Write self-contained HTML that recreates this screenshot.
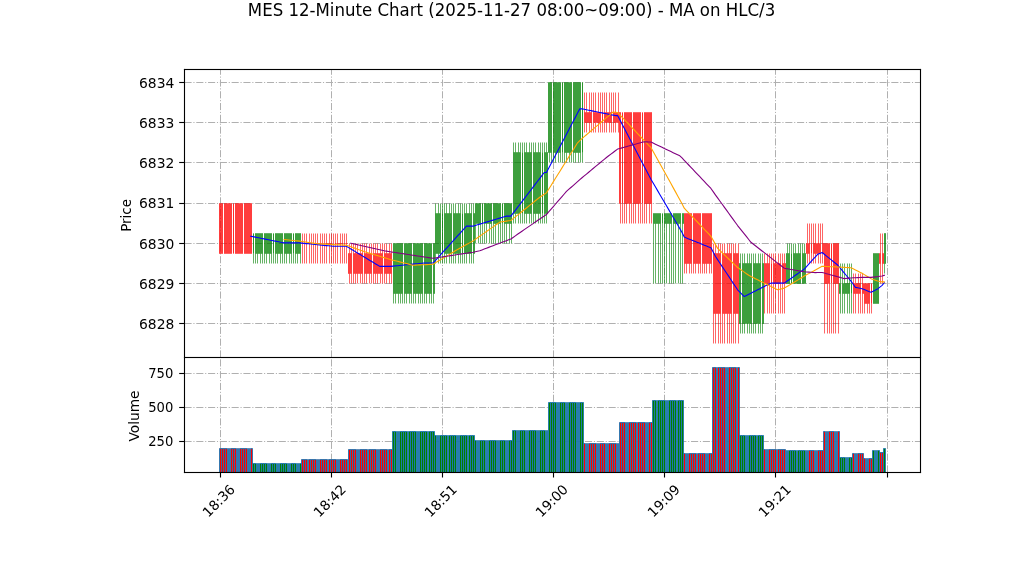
<!DOCTYPE html>
<html lang="en"><head><meta charset="utf-8"><title>MES 12-Minute Chart</title>
<style>
html,body{margin:0;padding:0;background:#fff;}
body{width:1022px;height:575px;overflow:hidden;}
svg{display:block;}
text{font-family:"DejaVu Sans","Liberation Sans",sans-serif;fill:#000;}
.t10{font-size:13.89px;}
.t12{font-size:16.67px;}
</style></head><body>
<svg width="1022" height="575" viewBox="0 0 1022 575">
<defs><clipPath id="vc"><rect x="184" y="357" width="736" height="115"/></clipPath></defs>
<rect width="1022" height="575" fill="#fff"/>

<g stroke="#b0b0b0" stroke-width="1" stroke-dasharray="7.11 1.78 1.11 1.78" fill="none">
<path d="M184.5 323.5H920.5"/>
<path d="M184.5 283.5H920.5"/>
<path d="M184.5 243.5H920.5"/>
<path d="M184.5 203.5H920.5"/>
<path d="M184.5 162.5H920.5"/>
<path d="M184.5 122.5H920.5"/>
<path d="M184.5 82.5H920.5"/>
<path d="M220.5 357.5V69.5"/>
<path d="M220.5 472.5V357.5"/>
<path d="M331.5 357.5V69.5"/>
<path d="M331.5 472.5V357.5"/>
<path d="M442.5 357.5V69.5"/>
<path d="M442.5 472.5V357.5"/>
<path d="M553.5 357.5V69.5"/>
<path d="M553.5 472.5V357.5"/>
<path d="M664.5 357.5V69.5"/>
<path d="M664.5 472.5V357.5"/>
<path d="M775.5 357.5V69.5"/>
<path d="M775.5 472.5V357.5"/>
<path d="M887.5 357.5V69.5"/>
<path d="M887.5 472.5V357.5"/>
<path d="M184.5 373.5H920.5"/>
<path d="M184.5 407.5H920.5"/>
<path d="M184.5 441.5H920.5"/>
</g>
<path d="M253.5 253.5V263.5M255.5 253.5V263.5M257.5 253.5V263.5M260.5 253.5V263.5M262.5 253.5V263.5M264.5 253.5V263.5M266.5 253.5V263.5M269.5 253.5V263.5M271.5 253.5V263.5M273.5 253.5V263.5M275.5 253.5V263.5M277.5 253.5V263.5M280.5 253.5V263.5M282.5 253.5V263.5M284.5 253.5V263.5M286.5 253.5V263.5M289.5 253.5V263.5M291.5 253.5V263.5M293.5 253.5V263.5M295.5 253.5V263.5M297.5 253.5V263.5M300.5 253.5V263.5M393.5 293.5V303.5M395.5 293.5V303.5M398.5 293.5V303.5M400.5 293.5V303.5M402.5 293.5V303.5M404.5 293.5V303.5M406.5 293.5V303.5M409.5 293.5V303.5M411.5 293.5V303.5M413.5 293.5V303.5M415.5 293.5V303.5M418.5 293.5V303.5M420.5 293.5V303.5M422.5 293.5V303.5M424.5 293.5V303.5M426.5 293.5V303.5M429.5 293.5V303.5M431.5 293.5V303.5M433.5 293.5V303.5M435.5 203.5V213.5M435.5 253.5V263.5M438.5 203.5V213.5M438.5 253.5V263.5M440.5 203.5V213.5M440.5 253.5V263.5M442.5 203.5V213.5M442.5 253.5V263.5M444.5 203.5V213.5M444.5 253.5V263.5M446.5 203.5V213.5M446.5 253.5V263.5M449.5 203.5V213.5M449.5 253.5V263.5M451.5 203.5V213.5M451.5 253.5V263.5M453.5 203.5V213.5M453.5 253.5V263.5M455.5 203.5V213.5M455.5 253.5V263.5M458.5 203.5V213.5M458.5 253.5V263.5M460.5 203.5V213.5M460.5 253.5V263.5M462.5 203.5V213.5M462.5 253.5V263.5M464.5 203.5V213.5M464.5 253.5V263.5M466.5 203.5V213.5M466.5 253.5V263.5M469.5 203.5V213.5M469.5 253.5V263.5M471.5 203.5V213.5M471.5 253.5V263.5M473.5 203.5V213.5M473.5 253.5V263.5M475.5 223.5V243.5M478.5 223.5V243.5M480.5 223.5V243.5M482.5 223.5V243.5M484.5 223.5V243.5M486.5 223.5V243.5M489.5 223.5V243.5M491.5 223.5V243.5M493.5 223.5V243.5M495.5 223.5V243.5M498.5 223.5V243.5M500.5 223.5V243.5M502.5 223.5V243.5M504.5 223.5V243.5M506.5 223.5V243.5M509.5 223.5V243.5M511.5 223.5V243.5M513.5 142.5V152.5M513.5 213.5V223.5M515.5 142.5V152.5M515.5 213.5V223.5M518.5 142.5V152.5M518.5 213.5V223.5M520.5 142.5V152.5M520.5 213.5V223.5M522.5 142.5V152.5M522.5 213.5V223.5M524.5 142.5V152.5M524.5 213.5V223.5M526.5 142.5V152.5M526.5 213.5V223.5M529.5 142.5V152.5M529.5 213.5V223.5M531.5 142.5V152.5M531.5 213.5V223.5M533.5 142.5V152.5M533.5 213.5V223.5M535.5 142.5V152.5M535.5 213.5V223.5M538.5 142.5V152.5M538.5 213.5V223.5M540.5 142.5V152.5M540.5 213.5V223.5M542.5 142.5V152.5M542.5 213.5V223.5M544.5 142.5V152.5M544.5 213.5V223.5M546.5 142.5V152.5M546.5 213.5V223.5M549.5 152.5V162.5M551.5 152.5V162.5M553.5 152.5V162.5M555.5 152.5V162.5M558.5 152.5V162.5M560.5 152.5V162.5M562.5 152.5V162.5M564.5 152.5V162.5M566.5 152.5V162.5M569.5 152.5V162.5M571.5 152.5V162.5M573.5 152.5V162.5M575.5 152.5V162.5M578.5 152.5V162.5M580.5 152.5V162.5M582.5 152.5V162.5M653.5 223.5V283.5M655.5 223.5V283.5M658.5 223.5V283.5M660.5 223.5V283.5M662.5 223.5V283.5M664.5 223.5V283.5M666.5 223.5V283.5M669.5 223.5V283.5M671.5 223.5V283.5M673.5 223.5V283.5M675.5 223.5V283.5M678.5 223.5V283.5M680.5 223.5V283.5M682.5 223.5V283.5M740.5 253.5V263.5M740.5 323.5V333.5M742.5 253.5V263.5M742.5 323.5V333.5M744.5 253.5V263.5M744.5 323.5V333.5M747.5 253.5V263.5M747.5 323.5V333.5M749.5 253.5V263.5M749.5 323.5V333.5M751.5 253.5V263.5M751.5 323.5V333.5M753.5 253.5V263.5M753.5 323.5V333.5M755.5 253.5V263.5M755.5 323.5V333.5M758.5 253.5V263.5M758.5 323.5V333.5M760.5 253.5V263.5M760.5 323.5V333.5M762.5 253.5V263.5M762.5 323.5V333.5M787.5 243.5V253.5M789.5 243.5V253.5M791.5 243.5V253.5M793.5 243.5V253.5M795.5 243.5V253.5M798.5 243.5V253.5M800.5 243.5V253.5M802.5 243.5V253.5M804.5 243.5V253.5M840.5 263.5V283.5M840.5 293.5V313.5M842.5 263.5V283.5M842.5 293.5V313.5M844.5 263.5V283.5M844.5 293.5V313.5M847.5 263.5V283.5M847.5 293.5V313.5M849.5 263.5V283.5M849.5 293.5V313.5M851.5 263.5V283.5M851.5 293.5V313.5M884.5 263.5V273.5" stroke="#008000" stroke-width="0.604" fill="none"/>
<path d="M302.5 233.5V243.5M302.5 243.5V263.5M304.5 233.5V243.5M304.5 243.5V263.5M306.5 233.5V243.5M306.5 243.5V263.5M309.5 233.5V243.5M309.5 243.5V263.5M311.5 233.5V243.5M311.5 243.5V263.5M313.5 233.5V243.5M313.5 243.5V263.5M315.5 233.5V243.5M315.5 243.5V263.5M317.5 233.5V243.5M317.5 243.5V263.5M320.5 233.5V243.5M320.5 243.5V263.5M322.5 233.5V243.5M322.5 243.5V263.5M324.5 233.5V243.5M324.5 243.5V263.5M326.5 233.5V243.5M326.5 243.5V263.5M329.5 233.5V243.5M329.5 243.5V263.5M331.5 233.5V243.5M331.5 243.5V263.5M333.5 233.5V243.5M333.5 243.5V263.5M335.5 233.5V243.5M335.5 243.5V263.5M337.5 233.5V243.5M337.5 243.5V263.5M340.5 233.5V243.5M340.5 243.5V263.5M342.5 233.5V243.5M342.5 243.5V263.5M344.5 233.5V243.5M344.5 243.5V263.5M346.5 233.5V243.5M346.5 243.5V263.5M349.5 243.5V253.5M349.5 273.5V283.5M351.5 243.5V253.5M351.5 273.5V283.5M353.5 243.5V253.5M353.5 273.5V283.5M355.5 243.5V253.5M355.5 273.5V283.5M357.5 243.5V253.5M357.5 273.5V283.5M360.5 243.5V253.5M360.5 273.5V283.5M362.5 243.5V253.5M362.5 273.5V283.5M364.5 243.5V253.5M364.5 273.5V283.5M366.5 243.5V253.5M366.5 273.5V283.5M369.5 243.5V253.5M369.5 273.5V283.5M371.5 243.5V253.5M371.5 273.5V283.5M373.5 243.5V253.5M373.5 273.5V283.5M375.5 243.5V253.5M375.5 273.5V283.5M377.5 243.5V253.5M377.5 273.5V283.5M380.5 243.5V253.5M380.5 273.5V283.5M382.5 243.5V253.5M382.5 273.5V283.5M384.5 243.5V253.5M384.5 273.5V283.5M386.5 243.5V253.5M386.5 273.5V283.5M389.5 243.5V253.5M389.5 273.5V283.5M391.5 243.5V253.5M391.5 273.5V283.5M584.5 92.5V112.5M584.5 122.5V132.5M586.5 92.5V112.5M586.5 122.5V132.5M589.5 92.5V112.5M589.5 122.5V132.5M591.5 92.5V112.5M591.5 122.5V132.5M593.5 92.5V112.5M593.5 122.5V132.5M595.5 92.5V112.5M595.5 122.5V132.5M598.5 92.5V112.5M598.5 122.5V132.5M600.5 92.5V112.5M600.5 122.5V132.5M602.5 92.5V112.5M602.5 122.5V132.5M604.5 92.5V112.5M604.5 122.5V132.5M606.5 92.5V112.5M606.5 122.5V132.5M609.5 92.5V112.5M609.5 122.5V132.5M611.5 92.5V112.5M611.5 122.5V132.5M613.5 92.5V112.5M613.5 122.5V132.5M615.5 92.5V112.5M615.5 122.5V132.5M618.5 92.5V112.5M618.5 122.5V132.5M620.5 203.5V223.5M622.5 203.5V223.5M624.5 203.5V223.5M626.5 203.5V223.5M629.5 203.5V223.5M631.5 203.5V223.5M633.5 203.5V223.5M635.5 203.5V223.5M638.5 203.5V223.5M640.5 203.5V223.5M642.5 203.5V223.5M644.5 203.5V223.5M646.5 203.5V223.5M649.5 203.5V223.5M651.5 203.5V223.5M684.5 263.5V273.5M686.5 263.5V273.5M689.5 263.5V273.5M691.5 263.5V273.5M693.5 263.5V273.5M695.5 263.5V273.5M698.5 263.5V273.5M700.5 263.5V273.5M702.5 263.5V273.5M704.5 263.5V273.5M706.5 263.5V273.5M709.5 263.5V273.5M711.5 263.5V273.5M713.5 243.5V253.5M713.5 313.5V343.5M715.5 243.5V253.5M715.5 313.5V343.5M718.5 243.5V253.5M718.5 313.5V343.5M720.5 243.5V253.5M720.5 313.5V343.5M722.5 243.5V253.5M722.5 313.5V343.5M724.5 243.5V253.5M724.5 313.5V343.5M727.5 243.5V253.5M727.5 313.5V343.5M729.5 243.5V253.5M729.5 313.5V343.5M731.5 243.5V253.5M731.5 313.5V343.5M733.5 243.5V253.5M733.5 313.5V343.5M735.5 243.5V253.5M735.5 313.5V343.5M738.5 243.5V253.5M738.5 313.5V343.5M764.5 253.5V263.5M764.5 283.5V313.5M767.5 253.5V263.5M767.5 283.5V313.5M769.5 253.5V263.5M769.5 283.5V313.5M771.5 253.5V263.5M771.5 283.5V313.5M773.5 253.5V263.5M773.5 283.5V313.5M775.5 253.5V263.5M775.5 283.5V313.5M778.5 253.5V263.5M778.5 283.5V313.5M780.5 253.5V263.5M780.5 283.5V313.5M782.5 253.5V263.5M782.5 283.5V313.5M784.5 253.5V263.5M784.5 283.5V313.5M807.5 223.5V243.5M807.5 253.5V263.5M809.5 223.5V243.5M809.5 253.5V263.5M811.5 223.5V243.5M811.5 253.5V263.5M813.5 223.5V243.5M813.5 253.5V263.5M815.5 223.5V243.5M815.5 253.5V263.5M818.5 223.5V243.5M818.5 253.5V263.5M820.5 223.5V243.5M820.5 253.5V263.5M822.5 223.5V243.5M822.5 253.5V263.5M824.5 283.5V333.5M827.5 283.5V333.5M829.5 283.5V333.5M831.5 283.5V333.5M833.5 283.5V333.5M835.5 283.5V333.5M838.5 283.5V333.5M853.5 273.5V283.5M853.5 293.5V313.5M855.5 273.5V283.5M855.5 293.5V313.5M858.5 273.5V283.5M858.5 293.5V313.5M860.5 273.5V283.5M860.5 293.5V313.5M862.5 273.5V283.5M862.5 293.5V313.5M864.5 303.5V313.5M867.5 303.5V313.5M869.5 303.5V313.5M871.5 303.5V313.5M880.5 233.5V253.5M880.5 263.5V283.5M882.5 233.5V253.5M882.5 263.5V283.5" stroke="#ff0000" stroke-width="0.604" fill="none"/>
<g fill="#008000" fill-opacity="0.8" stroke="#008000" stroke-width="0.604">
<path d="M253.5 233.5H253.5V253.5H253.5Z"/>
<path d="M255.5 233.5H256.5V253.5H255.5Z"/>
<path d="M257.5 233.5H258.5V253.5H257.5Z"/>
<path d="M259.5 233.5H260.5V253.5H259.5Z"/>
<path d="M261.5 233.5H262.5V253.5H261.5Z"/>
<path d="M264.5 233.5H265.5V253.5H264.5Z"/>
<path d="M266.5 233.5H267.5V253.5H266.5Z"/>
<path d="M268.5 233.5H269.5V253.5H268.5Z"/>
<path d="M270.5 233.5H271.5V253.5H270.5Z"/>
<path d="M273.5 233.5H273.5V253.5H273.5Z"/>
<path d="M275.5 233.5H276.5V253.5H275.5Z"/>
<path d="M277.5 233.5H278.5V253.5H277.5Z"/>
<path d="M279.5 233.5H280.5V253.5H279.5Z"/>
<path d="M281.5 233.5H282.5V253.5H281.5Z"/>
<path d="M284.5 233.5H285.5V253.5H284.5Z"/>
<path d="M286.5 233.5H287.5V253.5H286.5Z"/>
<path d="M288.5 233.5H289.5V253.5H288.5Z"/>
<path d="M290.5 233.5H291.5V253.5H290.5Z"/>
<path d="M293.5 233.5H293.5V253.5H293.5Z"/>
<path d="M295.5 233.5H296.5V253.5H295.5Z"/>
<path d="M297.5 233.5H298.5V253.5H297.5Z"/>
<path d="M299.5 233.5H300.5V253.5H299.5Z"/>
<path d="M393.5 243.5H394.5V293.5H393.5Z"/>
<path d="M395.5 243.5H396.5V293.5H395.5Z"/>
<path d="M397.5 243.5H398.5V293.5H397.5Z"/>
<path d="M399.5 243.5H400.5V293.5H399.5Z"/>
<path d="M401.5 243.5H402.5V293.5H401.5Z"/>
<path d="M404.5 243.5H405.5V293.5H404.5Z"/>
<path d="M406.5 243.5H407.5V293.5H406.5Z"/>
<path d="M408.5 243.5H409.5V293.5H408.5Z"/>
<path d="M410.5 243.5H411.5V293.5H410.5Z"/>
<path d="M413.5 243.5H414.5V293.5H413.5Z"/>
<path d="M415.5 243.5H416.5V293.5H415.5Z"/>
<path d="M417.5 243.5H418.5V293.5H417.5Z"/>
<path d="M419.5 243.5H420.5V293.5H419.5Z"/>
<path d="M421.5 243.5H422.5V293.5H421.5Z"/>
<path d="M424.5 243.5H425.5V293.5H424.5Z"/>
<path d="M426.5 243.5H427.5V293.5H426.5Z"/>
<path d="M428.5 243.5H429.5V293.5H428.5Z"/>
<path d="M430.5 243.5H431.5V293.5H430.5Z"/>
<path d="M433.5 243.5H434.5V293.5H433.5Z"/>
<path d="M435.5 213.5H436.5V253.5H435.5Z"/>
<path d="M437.5 213.5H438.5V253.5H437.5Z"/>
<path d="M439.5 213.5H440.5V253.5H439.5Z"/>
<path d="M442.5 213.5H442.5V253.5H442.5Z"/>
<path d="M444.5 213.5H445.5V253.5H444.5Z"/>
<path d="M446.5 213.5H447.5V253.5H446.5Z"/>
<path d="M448.5 213.5H449.5V253.5H448.5Z"/>
<path d="M450.5 213.5H451.5V253.5H450.5Z"/>
<path d="M453.5 213.5H454.5V253.5H453.5Z"/>
<path d="M455.5 213.5H456.5V253.5H455.5Z"/>
<path d="M457.5 213.5H458.5V253.5H457.5Z"/>
<path d="M459.5 213.5H460.5V253.5H459.5Z"/>
<path d="M462.5 213.5H462.5V253.5H462.5Z"/>
<path d="M464.5 213.5H465.5V253.5H464.5Z"/>
<path d="M466.5 213.5H467.5V253.5H466.5Z"/>
<path d="M468.5 213.5H469.5V253.5H468.5Z"/>
<path d="M470.5 213.5H471.5V253.5H470.5Z"/>
<path d="M473.5 213.5H474.5V253.5H473.5Z"/>
<path d="M475.5 203.5H476.5V223.5H475.5Z"/>
<path d="M477.5 203.5H478.5V223.5H477.5Z"/>
<path d="M479.5 203.5H480.5V223.5H479.5Z"/>
<path d="M482.5 203.5H482.5V223.5H482.5Z"/>
<path d="M484.5 203.5H485.5V223.5H484.5Z"/>
<path d="M486.5 203.5H487.5V223.5H486.5Z"/>
<path d="M488.5 203.5H489.5V223.5H488.5Z"/>
<path d="M490.5 203.5H491.5V223.5H490.5Z"/>
<path d="M493.5 203.5H494.5V223.5H493.5Z"/>
<path d="M495.5 203.5H496.5V223.5H495.5Z"/>
<path d="M497.5 203.5H498.5V223.5H497.5Z"/>
<path d="M499.5 203.5H500.5V223.5H499.5Z"/>
<path d="M502.5 203.5H502.5V223.5H502.5Z"/>
<path d="M504.5 203.5H505.5V223.5H504.5Z"/>
<path d="M506.5 203.5H507.5V223.5H506.5Z"/>
<path d="M508.5 203.5H509.5V223.5H508.5Z"/>
<path d="M510.5 203.5H511.5V223.5H510.5Z"/>
<path d="M513.5 152.5H514.5V213.5H513.5Z"/>
<path d="M515.5 152.5H516.5V213.5H515.5Z"/>
<path d="M517.5 152.5H518.5V213.5H517.5Z"/>
<path d="M519.5 152.5H520.5V213.5H519.5Z"/>
<path d="M522.5 152.5H522.5V213.5H522.5Z"/>
<path d="M524.5 152.5H525.5V213.5H524.5Z"/>
<path d="M526.5 152.5H527.5V213.5H526.5Z"/>
<path d="M528.5 152.5H529.5V213.5H528.5Z"/>
<path d="M530.5 152.5H531.5V213.5H530.5Z"/>
<path d="M533.5 152.5H534.5V213.5H533.5Z"/>
<path d="M535.5 152.5H536.5V213.5H535.5Z"/>
<path d="M537.5 152.5H538.5V213.5H537.5Z"/>
<path d="M539.5 152.5H540.5V213.5H539.5Z"/>
<path d="M542.5 152.5H542.5V213.5H542.5Z"/>
<path d="M544.5 152.5H545.5V213.5H544.5Z"/>
<path d="M546.5 152.5H547.5V213.5H546.5Z"/>
<path d="M548.5 82.5H549.5V152.5H548.5Z"/>
<path d="M550.5 82.5H551.5V152.5H550.5Z"/>
<path d="M553.5 82.5H554.5V152.5H553.5Z"/>
<path d="M555.5 82.5H556.5V152.5H555.5Z"/>
<path d="M557.5 82.5H558.5V152.5H557.5Z"/>
<path d="M559.5 82.5H560.5V152.5H559.5Z"/>
<path d="M562.5 82.5H562.5V152.5H562.5Z"/>
<path d="M564.5 82.5H565.5V152.5H564.5Z"/>
<path d="M566.5 82.5H567.5V152.5H566.5Z"/>
<path d="M568.5 82.5H569.5V152.5H568.5Z"/>
<path d="M570.5 82.5H571.5V152.5H570.5Z"/>
<path d="M573.5 82.5H574.5V152.5H573.5Z"/>
<path d="M575.5 82.5H576.5V152.5H575.5Z"/>
<path d="M577.5 82.5H578.5V152.5H577.5Z"/>
<path d="M579.5 82.5H580.5V152.5H579.5Z"/>
<path d="M582.5 82.5H582.5V152.5H582.5Z"/>
<path d="M653.5 213.5H654.5V223.5H653.5Z"/>
<path d="M655.5 213.5H656.5V223.5H655.5Z"/>
<path d="M657.5 213.5H658.5V223.5H657.5Z"/>
<path d="M659.5 213.5H660.5V223.5H659.5Z"/>
<path d="M662.5 213.5H662.5V223.5H662.5Z"/>
<path d="M664.5 213.5H665.5V223.5H664.5Z"/>
<path d="M666.5 213.5H667.5V223.5H666.5Z"/>
<path d="M668.5 213.5H669.5V223.5H668.5Z"/>
<path d="M670.5 213.5H671.5V223.5H670.5Z"/>
<path d="M673.5 213.5H674.5V223.5H673.5Z"/>
<path d="M675.5 213.5H676.5V223.5H675.5Z"/>
<path d="M677.5 213.5H678.5V223.5H677.5Z"/>
<path d="M679.5 213.5H680.5V223.5H679.5Z"/>
<path d="M682.5 213.5H683.5V223.5H682.5Z"/>
<path d="M739.5 263.5H740.5V323.5H739.5Z"/>
<path d="M742.5 263.5H743.5V323.5H742.5Z"/>
<path d="M744.5 263.5H745.5V323.5H744.5Z"/>
<path d="M746.5 263.5H747.5V323.5H746.5Z"/>
<path d="M748.5 263.5H749.5V323.5H748.5Z"/>
<path d="M750.5 263.5H751.5V323.5H750.5Z"/>
<path d="M753.5 263.5H754.5V323.5H753.5Z"/>
<path d="M755.5 263.5H756.5V323.5H755.5Z"/>
<path d="M757.5 263.5H758.5V323.5H757.5Z"/>
<path d="M759.5 263.5H760.5V323.5H759.5Z"/>
<path d="M762.5 263.5H763.5V323.5H762.5Z"/>
<path d="M786.5 253.5H787.5V283.5H786.5Z"/>
<path d="M788.5 253.5H789.5V283.5H788.5Z"/>
<path d="M791.5 253.5H791.5V283.5H791.5Z"/>
<path d="M793.5 253.5H794.5V283.5H793.5Z"/>
<path d="M795.5 253.5H796.5V283.5H795.5Z"/>
<path d="M797.5 253.5H798.5V283.5H797.5Z"/>
<path d="M799.5 253.5H800.5V283.5H799.5Z"/>
<path d="M802.5 253.5H803.5V283.5H802.5Z"/>
<path d="M804.5 253.5H805.5V283.5H804.5Z"/>
<path d="M839.5 283.5H840.5V293.5H839.5Z"/>
<path d="M842.5 283.5H843.5V293.5H842.5Z"/>
<path d="M844.5 283.5H845.5V293.5H844.5Z"/>
<path d="M846.5 283.5H847.5V293.5H846.5Z"/>
<path d="M848.5 283.5H849.5V293.5H848.5Z"/>
<path d="M851.5 283.5H851.5V293.5H851.5Z"/>
<path d="M873.5 253.5H874.5V303.5H873.5Z"/>
<path d="M875.5 253.5H876.5V303.5H875.5Z"/>
<path d="M877.5 253.5H878.5V303.5H877.5Z"/>
<path d="M884.5 233.5H885.5V263.5H884.5Z"/>
</g>
<g fill="#ff0000" fill-opacity="0.8" stroke="#ff0000" stroke-width="0.604">
<path d="M219.5 203.5H220.5V253.5H219.5Z"/>
<path d="M221.5 203.5H222.5V253.5H221.5Z"/>
<path d="M224.5 203.5H225.5V253.5H224.5Z"/>
<path d="M226.5 203.5H227.5V253.5H226.5Z"/>
<path d="M228.5 203.5H229.5V253.5H228.5Z"/>
<path d="M230.5 203.5H231.5V253.5H230.5Z"/>
<path d="M233.5 203.5H233.5V253.5H233.5Z"/>
<path d="M235.5 203.5H236.5V253.5H235.5Z"/>
<path d="M237.5 203.5H238.5V253.5H237.5Z"/>
<path d="M239.5 203.5H240.5V253.5H239.5Z"/>
<path d="M241.5 203.5H242.5V253.5H241.5Z"/>
<path d="M244.5 203.5H245.5V253.5H244.5Z"/>
<path d="M246.5 203.5H247.5V253.5H246.5Z"/>
<path d="M248.5 203.5H249.5V253.5H248.5Z"/>
<path d="M250.5 203.5H251.5V253.5H250.5Z"/>
<path d="M348.5 253.5H349.5V273.5H348.5Z"/>
<path d="M350.5 253.5H351.5V273.5H350.5Z"/>
<path d="M353.5 253.5H354.5V273.5H353.5Z"/>
<path d="M355.5 253.5H356.5V273.5H355.5Z"/>
<path d="M357.5 253.5H358.5V273.5H357.5Z"/>
<path d="M359.5 253.5H360.5V273.5H359.5Z"/>
<path d="M361.5 253.5H362.5V273.5H361.5Z"/>
<path d="M364.5 253.5H365.5V273.5H364.5Z"/>
<path d="M366.5 253.5H367.5V273.5H366.5Z"/>
<path d="M368.5 253.5H369.5V273.5H368.5Z"/>
<path d="M370.5 253.5H371.5V273.5H370.5Z"/>
<path d="M373.5 253.5H374.5V273.5H373.5Z"/>
<path d="M375.5 253.5H376.5V273.5H375.5Z"/>
<path d="M377.5 253.5H378.5V273.5H377.5Z"/>
<path d="M379.5 253.5H380.5V273.5H379.5Z"/>
<path d="M381.5 253.5H382.5V273.5H381.5Z"/>
<path d="M384.5 253.5H385.5V273.5H384.5Z"/>
<path d="M386.5 253.5H387.5V273.5H386.5Z"/>
<path d="M388.5 253.5H389.5V273.5H388.5Z"/>
<path d="M390.5 253.5H391.5V273.5H390.5Z"/>
<path d="M584.5 112.5H585.5V122.5H584.5Z"/>
<path d="M586.5 112.5H587.5V122.5H586.5Z"/>
<path d="M588.5 112.5H589.5V122.5H588.5Z"/>
<path d="M590.5 112.5H591.5V122.5H590.5Z"/>
<path d="M593.5 112.5H594.5V122.5H593.5Z"/>
<path d="M595.5 112.5H596.5V122.5H595.5Z"/>
<path d="M597.5 112.5H598.5V122.5H597.5Z"/>
<path d="M599.5 112.5H600.5V122.5H599.5Z"/>
<path d="M602.5 112.5H602.5V122.5H602.5Z"/>
<path d="M604.5 112.5H605.5V122.5H604.5Z"/>
<path d="M606.5 112.5H607.5V122.5H606.5Z"/>
<path d="M608.5 112.5H609.5V122.5H608.5Z"/>
<path d="M610.5 112.5H611.5V122.5H610.5Z"/>
<path d="M613.5 112.5H614.5V122.5H613.5Z"/>
<path d="M615.5 112.5H616.5V122.5H615.5Z"/>
<path d="M617.5 112.5H618.5V122.5H617.5Z"/>
<path d="M619.5 112.5H620.5V203.5H619.5Z"/>
<path d="M622.5 112.5H622.5V203.5H622.5Z"/>
<path d="M624.5 112.5H625.5V203.5H624.5Z"/>
<path d="M626.5 112.5H627.5V203.5H626.5Z"/>
<path d="M628.5 112.5H629.5V203.5H628.5Z"/>
<path d="M630.5 112.5H631.5V203.5H630.5Z"/>
<path d="M633.5 112.5H634.5V203.5H633.5Z"/>
<path d="M635.5 112.5H636.5V203.5H635.5Z"/>
<path d="M637.5 112.5H638.5V203.5H637.5Z"/>
<path d="M639.5 112.5H640.5V203.5H639.5Z"/>
<path d="M642.5 112.5H642.5V203.5H642.5Z"/>
<path d="M644.5 112.5H645.5V203.5H644.5Z"/>
<path d="M646.5 112.5H647.5V203.5H646.5Z"/>
<path d="M648.5 112.5H649.5V203.5H648.5Z"/>
<path d="M650.5 112.5H651.5V203.5H650.5Z"/>
<path d="M684.5 213.5H685.5V263.5H684.5Z"/>
<path d="M686.5 213.5H687.5V263.5H686.5Z"/>
<path d="M688.5 213.5H689.5V263.5H688.5Z"/>
<path d="M690.5 213.5H691.5V263.5H690.5Z"/>
<path d="M693.5 213.5H694.5V263.5H693.5Z"/>
<path d="M695.5 213.5H696.5V263.5H695.5Z"/>
<path d="M697.5 213.5H698.5V263.5H697.5Z"/>
<path d="M699.5 213.5H700.5V263.5H699.5Z"/>
<path d="M702.5 213.5H703.5V263.5H702.5Z"/>
<path d="M704.5 213.5H705.5V263.5H704.5Z"/>
<path d="M706.5 213.5H707.5V263.5H706.5Z"/>
<path d="M708.5 213.5H709.5V263.5H708.5Z"/>
<path d="M710.5 213.5H711.5V263.5H710.5Z"/>
<path d="M713.5 253.5H714.5V313.5H713.5Z"/>
<path d="M715.5 253.5H716.5V313.5H715.5Z"/>
<path d="M717.5 253.5H718.5V313.5H717.5Z"/>
<path d="M719.5 253.5H720.5V313.5H719.5Z"/>
<path d="M722.5 253.5H723.5V313.5H722.5Z"/>
<path d="M724.5 253.5H725.5V313.5H724.5Z"/>
<path d="M726.5 253.5H727.5V313.5H726.5Z"/>
<path d="M728.5 253.5H729.5V313.5H728.5Z"/>
<path d="M730.5 253.5H731.5V313.5H730.5Z"/>
<path d="M733.5 253.5H734.5V313.5H733.5Z"/>
<path d="M735.5 253.5H736.5V313.5H735.5Z"/>
<path d="M737.5 253.5H738.5V313.5H737.5Z"/>
<path d="M764.5 263.5H765.5V283.5H764.5Z"/>
<path d="M766.5 263.5H767.5V283.5H766.5Z"/>
<path d="M768.5 263.5H769.5V283.5H768.5Z"/>
<path d="M771.5 263.5H771.5V283.5H771.5Z"/>
<path d="M773.5 263.5H774.5V283.5H773.5Z"/>
<path d="M775.5 263.5H776.5V283.5H775.5Z"/>
<path d="M777.5 263.5H778.5V283.5H777.5Z"/>
<path d="M779.5 263.5H780.5V283.5H779.5Z"/>
<path d="M782.5 263.5H783.5V283.5H782.5Z"/>
<path d="M784.5 263.5H785.5V283.5H784.5Z"/>
<path d="M806.5 243.5H807.5V253.5H806.5Z"/>
<path d="M808.5 243.5H809.5V253.5H808.5Z"/>
<path d="M811.5 243.5H811.5V253.5H811.5Z"/>
<path d="M813.5 243.5H814.5V253.5H813.5Z"/>
<path d="M815.5 243.5H816.5V253.5H815.5Z"/>
<path d="M817.5 243.5H818.5V253.5H817.5Z"/>
<path d="M819.5 243.5H820.5V253.5H819.5Z"/>
<path d="M822.5 243.5H823.5V253.5H822.5Z"/>
<path d="M824.5 243.5H825.5V283.5H824.5Z"/>
<path d="M826.5 243.5H827.5V283.5H826.5Z"/>
<path d="M828.5 243.5H829.5V283.5H828.5Z"/>
<path d="M831.5 243.5H831.5V283.5H831.5Z"/>
<path d="M833.5 243.5H834.5V283.5H833.5Z"/>
<path d="M835.5 243.5H836.5V283.5H835.5Z"/>
<path d="M837.5 243.5H838.5V283.5H837.5Z"/>
<path d="M853.5 283.5H854.5V293.5H853.5Z"/>
<path d="M855.5 283.5H856.5V293.5H855.5Z"/>
<path d="M857.5 283.5H858.5V293.5H857.5Z"/>
<path d="M859.5 283.5H860.5V293.5H859.5Z"/>
<path d="M862.5 283.5H863.5V293.5H862.5Z"/>
<path d="M864.5 283.5H865.5V303.5H864.5Z"/>
<path d="M866.5 283.5H867.5V303.5H866.5Z"/>
<path d="M868.5 283.5H869.5V303.5H868.5Z"/>
<path d="M871.5 283.5H871.5V303.5H871.5Z"/>
<path d="M879.5 253.5H880.5V263.5H879.5Z"/>
<path d="M882.5 253.5H883.5V263.5H882.5Z"/>
</g>
<path d="M301.2 243.5H302.8M304.2 243.5H305.8M306.2 243.5H307.8M308.2 243.5H309.8M310.2 243.5H311.8M313.2 243.5H313.8M315.2 243.5H316.8M317.2 243.5H318.8M319.2 243.5H320.8M321.2 243.5H322.8M324.2 243.5H325.8M326.2 243.5H327.8M328.2 243.5H329.8M330.2 243.5H331.8M333.2 243.5H333.8M335.2 243.5H336.8M337.2 243.5H338.8M339.2 243.5H340.8M341.2 243.5H342.8M344.2 243.5H345.8M346.2 243.5H347.8" stroke="#ff0000" stroke-width="0.604"/>
<path d="M250.79 236.21 L253.01 236.66 L255.23 237.1 L257.46 237.55 L259.68 238 L261.9 238.44 L264.12 238.89 L266.35 239.34 L268.57 239.78 L270.79 240.23 L273.02 240.68 L275.24 241.12 L277.46 241.57 L279.69 242.02 L281.91 242.46 L284.13 242.91 L286.35 242.91 L288.58 242.91 L290.8 242.91 L293.02 242.91 L295.25 242.91 L297.47 242.91 L299.69 242.91 L301.92 243.13 L304.14 243.36 L306.36 243.58 L308.58 243.8 L310.81 244.03 L313.03 244.25 L315.25 244.47 L317.48 244.7 L319.7 244.92 L321.92 245.14 L324.14 245.37 L326.37 245.59 L328.59 245.81 L330.81 246.04 L333.04 246.26 L335.26 246.26 L337.48 246.26 L339.71 246.26 L341.93 246.26 L344.15 246.26 L346.37 246.26 L348.6 247.6 L350.82 248.94 L353.04 250.28 L355.27 251.62 L357.49 252.96 L359.71 254.3 L361.94 255.64 L364.16 256.98 L366.38 258.32 L368.6 259.66 L370.83 261 L373.05 262.34 L375.27 263.69 L377.5 265.03 L379.72 266.37 L381.94 266.37 L384.17 266.37 L386.39 266.37 L388.61 266.37 L390.83 266.37 L393.06 266.14 L395.28 265.92 L397.5 265.7 L399.73 265.47 L401.95 265.25 L404.17 265.03 L406.39 264.8 L408.62 264.58 L410.84 264.36 L413.06 264.13 L415.29 263.91 L417.51 263.69 L419.73 263.46 L421.96 263.24 L424.18 263.02 L426.4 263.02 L428.62 263.02 L430.85 263.02 L433.07 263.02 L435.29 260.56 L437.52 258.1 L439.74 255.64 L441.96 253.19 L444.19 250.73 L446.41 248.27 L448.63 245.81 L450.85 243.36 L453.08 240.9 L455.3 238.44 L457.52 235.98 L459.75 233.53 L461.97 231.07 L464.19 228.61 L466.42 226.16 L468.64 226.16 L470.86 226.16 L473.08 226.16 L475.31 225.49 L477.53 224.82 L479.75 224.15 L481.98 223.48 L484.2 222.81 L486.42 222.13 L488.65 221.46 L490.87 220.79 L493.09 220.12 L495.31 219.45 L497.54 218.78 L499.76 218.11 L501.98 217.44 L504.21 216.77 L506.43 216.1 L508.65 216.1 L510.87 216.1 L513.1 213.2 L515.32 210.3 L517.54 207.39 L519.77 204.49 L521.99 201.58 L524.21 198.68 L526.44 195.77 L528.66 192.87 L530.88 189.97 L533.1 187.06 L535.33 184.16 L537.55 181.25 L539.77 178.35 L542 175.45 L544.22 172.54 L546.44 172.54 L548.67 168.3 L550.89 164.05 L553.11 159.81 L555.33 155.56 L557.56 151.32 L559.78 147.08 L562 142.83 L564.23 138.59 L566.45 134.34 L568.67 130.1 L570.9 125.85 L573.12 121.61 L575.34 117.37 L577.56 113.12 L579.79 108.88 L582.01 108.88 L584.23 109.32 L586.46 109.77 L588.68 110.22 L590.9 110.66 L593.12 111.11 L595.35 111.56 L597.57 112 L599.79 112.45 L602.02 112.9 L604.24 113.34 L606.46 113.79 L608.69 114.24 L610.91 114.68 L613.13 115.13 L615.35 115.58 L617.58 115.58 L619.8 119.82 L622.02 124.07 L624.25 128.31 L626.47 132.56 L628.69 136.8 L630.92 141.04 L633.14 145.29 L635.36 149.53 L637.58 153.78 L639.81 158.02 L642.03 162.27 L644.25 166.51 L646.48 170.76 L648.7 175 L650.92 179.24 L653.15 183.04 L655.37 186.84 L657.59 190.64 L659.81 194.43 L662.04 198.23 L664.26 202.03 L666.48 205.83 L668.71 209.63 L670.93 213.42 L673.15 217.22 L675.38 221.02 L677.6 224.82 L679.82 228.61 L682.04 232.41 L684.27 237.1 L686.49 238 L688.71 238.89 L690.94 239.78 L693.16 240.68 L695.38 241.57 L697.6 242.46 L699.83 243.36 L702.05 244.25 L704.27 245.14 L706.5 246.04 L708.72 246.93 L710.94 247.82 L713.17 252.07 L715.39 256.31 L717.61 259.66 L719.83 263.02 L722.06 266.37 L724.28 269.72 L726.5 273.07 L728.73 276.42 L730.95 279.77 L733.17 283.12 L735.4 286.47 L737.62 289.82 L739.84 292.06 L742.06 294.29 L744.29 296.52 L746.51 295.41 L748.73 294.29 L750.96 293.17 L753.18 292.06 L755.4 290.94 L757.63 289.82 L759.85 288.7 L762.07 287.59 L764.29 286.47 L766.52 285.35 L768.74 284.24 L770.96 283.12 L773.19 283.12 L775.41 283.12 L777.63 283.12 L779.85 283.12 L782.08 283.12 L784.3 283.12 L786.52 281.56 L788.75 279.99 L790.97 278.43 L793.19 276.87 L795.42 275.3 L797.64 273.74 L799.86 272.17 L802.08 270.61 L804.31 269.05 L806.53 266.59 L808.75 264.13 L810.98 261.67 L813.2 259.22 L815.42 256.76 L817.65 254.3 L819.87 253.41 L822.09 252.52 L824.31 254.3 L826.54 256.09 L828.76 257.88 L830.98 259.66 L833.21 261.45 L835.43 263.24 L837.65 265.03 L839.88 267.71 L842.1 270.39 L844.32 273.07 L846.54 275.75 L848.77 278.43 L850.99 281.11 L853.21 284.24 L855.44 287.36 L857.66 287.81 L859.88 288.26 L862.11 288.7 L864.33 289.6 L866.55 290.49 L868.77 291.39 L871 292.28 L873.22 291.16 L875.44 290.05 L877.67 288.93 L879.89 287.14 L882.11 285.35 L884.33 282.67" stroke="#0000ff" stroke-width="1.1" fill="none" stroke-linejoin="round" stroke-linecap="square"/>
<path d="M284.13 239.56 L286.35 239.78 L288.58 240.01 L290.8 240.23 L293.02 240.45 L295.25 240.68 L297.47 240.9 L299.69 241.12 L301.92 241.46 L304.14 241.79 L306.36 242.13 L308.58 242.46 L310.81 242.8 L313.03 243.13 L315.25 243.47 L317.48 243.8 L319.7 243.92 L321.92 244.03 L324.14 244.14 L326.37 244.25 L328.59 244.36 L330.81 244.47 L333.04 244.59 L335.26 244.7 L337.48 244.81 L339.71 244.92 L341.93 245.03 L344.15 245.14 L346.37 245.26 L348.6 246.04 L350.82 246.82 L353.04 247.6 L355.27 248.38 L357.49 249.16 L359.71 249.95 L361.94 250.73 L364.16 251.51 L366.38 252.29 L368.6 252.96 L370.83 253.63 L373.05 254.3 L375.27 254.97 L377.5 255.64 L379.72 256.31 L381.94 256.98 L384.17 257.65 L386.39 258.32 L388.61 258.99 L390.83 259.66 L393.06 260.22 L395.28 260.78 L397.5 261.34 L399.73 261.9 L401.95 262.46 L404.17 263.02 L406.39 263.57 L408.62 264.13 L410.84 264.69 L413.06 265.25 L415.29 265.14 L417.51 265.03 L419.73 264.91 L421.96 264.8 L424.18 264.69 L426.4 264.58 L428.62 264.47 L430.85 264.36 L433.07 264.24 L435.29 262.9 L437.52 261.56 L439.74 260.22 L441.96 258.88 L444.19 257.54 L446.41 256.2 L448.63 254.86 L450.85 253.52 L453.08 252.18 L455.3 250.84 L457.52 249.5 L459.75 248.27 L461.97 247.04 L464.19 245.81 L466.42 244.59 L468.64 243.36 L470.86 242.13 L473.08 240.9 L475.31 239.34 L477.53 237.77 L479.75 236.21 L481.98 234.64 L484.2 233.08 L486.42 231.52 L488.65 229.95 L490.87 228.39 L493.09 226.83 L495.31 225.26 L497.54 223.7 L499.76 222.13 L501.98 221.8 L504.21 221.46 L506.43 221.13 L508.65 220.79 L510.87 220.46 L513.1 218.67 L515.32 216.89 L517.54 215.1 L519.77 213.31 L521.99 211.52 L524.21 209.74 L526.44 207.95 L528.66 206.16 L530.88 204.38 L533.1 202.59 L535.33 200.8 L537.55 199.01 L539.77 197.23 L542 195.77 L544.22 194.32 L546.44 192.87 L548.67 189.3 L550.89 185.72 L553.11 182.15 L555.33 178.57 L557.56 175 L559.78 171.43 L562 167.85 L564.23 164.28 L566.45 160.7 L568.67 157.13 L570.9 153.55 L573.12 149.98 L575.34 146.41 L577.56 142.83 L579.79 140.71 L582.01 138.59 L584.23 136.69 L586.46 134.79 L588.68 132.89 L590.9 130.99 L593.12 129.09 L595.35 127.19 L597.57 125.3 L599.79 123.4 L602.02 121.5 L604.24 119.6 L606.46 117.7 L608.69 115.8 L610.91 113.9 L613.13 112 L615.35 112.23 L617.58 112.45 L619.8 114.8 L622.02 117.14 L624.25 119.49 L626.47 121.83 L628.69 124.18 L630.92 126.52 L633.14 128.87 L635.36 131.22 L637.58 133.56 L639.81 135.91 L642.03 138.25 L644.25 140.6 L646.48 142.94 L648.7 145.29 L650.92 147.41 L653.15 151.43 L655.37 155.45 L657.59 159.47 L659.81 163.5 L662.04 167.52 L664.26 171.54 L666.48 175.56 L668.71 179.58 L670.93 183.6 L673.15 187.62 L675.38 191.64 L677.6 195.66 L679.82 199.68 L682.04 203.71 L684.27 208.17 L686.49 210.52 L688.71 212.86 L690.94 215.21 L693.16 217.56 L695.38 219.9 L697.6 222.25 L699.83 224.59 L702.05 226.94 L704.27 229.28 L706.5 231.63 L708.72 233.97 L710.94 236.32 L713.17 240.34 L715.39 244.36 L717.61 248.38 L719.83 250.51 L722.06 252.63 L724.28 254.75 L726.5 256.87 L728.73 258.99 L730.95 261.12 L733.17 263.24 L735.4 265.36 L737.62 267.48 L739.84 269.05 L742.06 270.61 L744.29 272.17 L746.51 273.74 L748.73 275.3 L750.96 276.42 L753.18 277.54 L755.4 278.65 L757.63 279.77 L759.85 280.89 L762.07 282 L764.29 283.12 L766.52 284.24 L768.74 285.35 L770.96 286.47 L773.19 287.59 L775.41 288.7 L777.63 289.82 L779.85 289.26 L782.08 288.7 L784.3 288.15 L786.52 286.81 L788.75 285.47 L790.97 284.13 L793.19 282.78 L795.42 281.44 L797.64 280.1 L799.86 278.76 L802.08 277.42 L804.31 276.08 L806.53 274.85 L808.75 273.63 L810.98 272.4 L813.2 271.17 L815.42 269.94 L817.65 268.71 L819.87 267.48 L822.09 266.25 L824.31 266.37 L826.54 266.48 L828.76 266.59 L830.98 266.7 L833.21 266.81 L835.43 266.92 L837.65 267.04 L839.88 267.15 L842.1 267.26 L844.32 267.37 L846.54 267.48 L848.77 267.59 L850.99 267.71 L853.21 268.82 L855.44 269.94 L857.66 271.06 L859.88 272.17 L862.11 273.29 L864.33 274.63 L866.55 275.97 L868.77 277.31 L871 278.65 L873.22 279.43 L875.44 280.22 L877.67 281 L879.89 281.44 L882.11 281.89 L884.33 281.89" stroke="#ffa500" stroke-width="1.1" fill="none" stroke-linejoin="round" stroke-linecap="square"/>
<path d="M350.82 243.19 L353.04 243.69 L355.27 244.19 L357.49 244.7 L359.71 245.2 L361.94 245.7 L364.16 246.2 L366.38 246.71 L368.6 247.21 L370.83 247.71 L373.05 248.22 L375.27 248.72 L377.5 249.22 L379.72 249.72 L381.94 250.23 L384.17 250.73 L386.39 251.12 L388.61 251.51 L390.83 251.9 L393.06 252.24 L395.28 252.57 L397.5 252.91 L399.73 253.24 L401.95 253.58 L404.17 253.91 L406.39 254.25 L408.62 254.58 L410.84 254.92 L413.06 255.25 L415.29 255.59 L417.51 255.92 L419.73 256.26 L421.96 256.59 L424.18 256.93 L426.4 257.26 L428.62 257.6 L430.85 257.93 L433.07 258.27 L435.29 257.93 L437.52 257.6 L439.74 257.26 L441.96 256.93 L444.19 256.59 L446.41 256.26 L448.63 255.92 L450.85 255.59 L453.08 255.25 L455.3 254.92 L457.52 254.58 L459.75 254.25 L461.97 253.91 L464.19 253.58 L466.42 253.24 L468.64 252.91 L470.86 252.57 L473.08 252.24 L475.31 251.73 L477.53 251.23 L479.75 250.73 L481.98 249.89 L484.2 249.05 L486.42 248.22 L488.65 247.38 L490.87 246.54 L493.09 245.7 L495.31 244.86 L497.54 244.03 L499.76 243.19 L501.98 242.35 L504.21 241.51 L506.43 240.68 L508.65 239.84 L510.87 239 L513.1 237.44 L515.32 235.87 L517.54 234.31 L519.77 232.75 L521.99 231.18 L524.21 229.62 L526.44 228.11 L528.66 226.6 L530.88 225.09 L533.1 223.59 L535.33 222.08 L537.55 220.57 L539.77 219.06 L542 217.56 L544.22 216.05 L546.44 214.54 L548.67 211.97 L550.89 209.4 L553.11 206.83 L555.33 204.26 L557.56 201.69 L559.78 199.13 L562 196.56 L564.23 193.99 L566.45 191.42 L568.67 189.46 L570.9 187.51 L573.12 185.55 L575.34 183.6 L577.56 181.65 L579.79 179.69 L582.01 177.74 L584.23 175.89 L586.46 174.05 L588.68 172.21 L590.9 170.36 L593.12 168.52 L595.35 166.68 L597.57 164.84 L599.79 162.99 L602.02 161.15 L604.24 159.31 L606.46 157.46 L608.69 155.79 L610.91 154.11 L613.13 152.44 L615.35 150.76 L617.58 149.09 L619.8 148.47 L622.02 147.86 L624.25 147.24 L626.47 146.63 L628.69 146.02 L630.92 145.4 L633.14 144.79 L635.36 144.17 L637.58 143.56 L639.81 142.94 L642.03 142.33 L644.25 141.71 L646.48 141.83 L648.7 141.94 L650.92 142.05 L653.15 143.11 L655.37 144.17 L657.59 145.23 L659.81 146.29 L662.04 147.36 L664.26 148.42 L666.48 149.48 L668.71 150.54 L670.93 151.6 L673.15 152.66 L675.38 153.72 L677.6 154.78 L679.82 155.84 L682.04 157.97 L684.27 160.31 L686.49 162.66 L688.71 165 L690.94 167.35 L693.16 169.69 L695.38 172.04 L697.6 174.39 L699.83 176.73 L702.05 179.08 L704.27 181.42 L706.5 183.77 L708.72 186.11 L710.94 188.46 L713.17 191.64 L715.39 194.83 L717.61 197.9 L719.83 200.97 L722.06 204.04 L724.28 207.11 L726.5 210.18 L728.73 213.26 L730.95 216.33 L733.17 219.4 L735.4 222.47 L737.62 225.54 L739.84 228.33 L742.06 231.13 L744.29 233.92 L746.51 236.71 L748.73 239.5 L750.96 242.3 L753.18 244.03 L755.4 245.76 L757.63 247.49 L759.85 249.22 L762.07 250.95 L764.29 252.68 L766.52 254.41 L768.74 256.15 L770.96 257.88 L773.19 259.61 L775.41 261.34 L777.63 263.07 L779.85 264.8 L782.08 266.53 L784.3 268.26 L786.52 268.66 L788.75 269.05 L790.97 269.44 L793.19 269.83 L795.42 270.22 L797.64 270.61 L799.86 271 L802.08 271.39 L804.31 271.78 L806.53 271.95 L808.75 272.12 L810.98 272.29 L813.2 272.45 L815.42 272.62 L817.65 272.56 L819.87 272.51 L822.09 272.45 L824.31 273.07 L826.54 273.68 L828.76 274.3 L830.98 274.91 L833.21 275.52 L835.43 276.14 L837.65 276.75 L839.88 277.37 L842.1 277.98 L844.32 278.6 L846.54 278.37 L848.77 278.15 L850.99 277.93 L853.21 277.81 L855.44 277.7 L857.66 277.59 L859.88 277.48 L862.11 277.37 L864.33 277.37 L866.55 277.37 L868.77 277.37 L871 277.37 L873.22 277.14 L875.44 276.92 L877.67 276.7 L879.89 276.31 L882.11 275.92 L884.33 275.3" stroke="#800080" stroke-width="1.1" fill="none" stroke-linejoin="round" stroke-linecap="square"/>
<g clip-path="url(#vc)" stroke="#1f77b4" stroke-width="0.903">
<path d="M219.5 480V448.5H221.5V480" fill="#ff0000"/>
<path d="M221.5 480V448.5H223.5V480" fill="#ff0000"/>
<path d="M223.5 480V448.5H225.5V480" fill="#ff0000"/>
<path d="M225.5 480V448.5H227.5V480" fill="#ff0000"/>
<path d="M228.5 480V448.5H229.5V480" fill="#ff0000"/>
<path d="M230.5 480V448.5H232.5V480" fill="#ff0000"/>
<path d="M232.5 480V448.5H234.5V480" fill="#ff0000"/>
<path d="M234.5 480V448.5H236.5V480" fill="#ff0000"/>
<path d="M237.5 480V448.5H238.5V480" fill="#ff0000"/>
<path d="M239.5 480V448.5H241.5V480" fill="#ff0000"/>
<path d="M241.5 480V448.5H243.5V480" fill="#ff0000"/>
<path d="M243.5 480V448.5H245.5V480" fill="#ff0000"/>
<path d="M245.5 480V448.5H247.5V480" fill="#ff0000"/>
<path d="M248.5 480V448.5H249.5V480" fill="#ff0000"/>
<path d="M250.5 480V448.5H252.5V480" fill="#ff0000"/>
<path d="M252.5 480V463.5H254.5V480" fill="#008000"/>
<path d="M254.5 480V463.5H256.5V480" fill="#008000"/>
<path d="M257.5 480V463.5H258.5V480" fill="#008000"/>
<path d="M259.5 480V463.5H261.5V480" fill="#008000"/>
<path d="M261.5 480V463.5H263.5V480" fill="#008000"/>
<path d="M263.5 480V463.5H265.5V480" fill="#008000"/>
<path d="M265.5 480V463.5H267.5V480" fill="#008000"/>
<path d="M268.5 480V463.5H269.5V480" fill="#008000"/>
<path d="M270.5 480V463.5H272.5V480" fill="#008000"/>
<path d="M272.5 480V463.5H274.5V480" fill="#008000"/>
<path d="M274.5 480V463.5H276.5V480" fill="#008000"/>
<path d="M277.5 480V463.5H278.5V480" fill="#008000"/>
<path d="M279.5 480V463.5H281.5V480" fill="#008000"/>
<path d="M281.5 480V463.5H283.5V480" fill="#008000"/>
<path d="M283.5 480V463.5H285.5V480" fill="#008000"/>
<path d="M285.5 480V463.5H287.5V480" fill="#008000"/>
<path d="M288.5 480V463.5H289.5V480" fill="#008000"/>
<path d="M290.5 480V463.5H292.5V480" fill="#008000"/>
<path d="M292.5 480V463.5H294.5V480" fill="#008000"/>
<path d="M294.5 480V463.5H296.5V480" fill="#008000"/>
<path d="M297.5 480V463.5H298.5V480" fill="#008000"/>
<path d="M299.5 480V463.5H301.5V480" fill="#008000"/>
<path d="M301.5 480V459.5H303.5V480" fill="#ff0000"/>
<path d="M303.5 480V459.5H305.5V480" fill="#ff0000"/>
<path d="M305.5 480V459.5H307.5V480" fill="#ff0000"/>
<path d="M308.5 480V459.5H310.5V480" fill="#ff0000"/>
<path d="M310.5 480V459.5H312.5V480" fill="#ff0000"/>
<path d="M312.5 480V459.5H314.5V480" fill="#ff0000"/>
<path d="M314.5 480V459.5H316.5V480" fill="#ff0000"/>
<path d="M317.5 480V459.5H318.5V480" fill="#ff0000"/>
<path d="M319.5 480V459.5H321.5V480" fill="#ff0000"/>
<path d="M321.5 480V459.5H323.5V480" fill="#ff0000"/>
<path d="M323.5 480V459.5H325.5V480" fill="#ff0000"/>
<path d="M325.5 480V459.5H327.5V480" fill="#ff0000"/>
<path d="M328.5 480V459.5H330.5V480" fill="#ff0000"/>
<path d="M330.5 480V459.5H332.5V480" fill="#ff0000"/>
<path d="M332.5 480V459.5H334.5V480" fill="#ff0000"/>
<path d="M334.5 480V459.5H336.5V480" fill="#ff0000"/>
<path d="M337.5 480V459.5H338.5V480" fill="#ff0000"/>
<path d="M339.5 480V459.5H341.5V480" fill="#ff0000"/>
<path d="M341.5 480V459.5H343.5V480" fill="#ff0000"/>
<path d="M343.5 480V459.5H345.5V480" fill="#ff0000"/>
<path d="M345.5 480V459.5H347.5V480" fill="#ff0000"/>
<path d="M348.5 480V449.5H350.5V480" fill="#ff0000"/>
<path d="M350.5 480V449.5H352.5V480" fill="#ff0000"/>
<path d="M352.5 480V449.5H354.5V480" fill="#ff0000"/>
<path d="M354.5 480V449.5H356.5V480" fill="#ff0000"/>
<path d="M357.5 480V449.5H358.5V480" fill="#ff0000"/>
<path d="M359.5 480V449.5H361.5V480" fill="#ff0000"/>
<path d="M361.5 480V449.5H363.5V480" fill="#ff0000"/>
<path d="M363.5 480V449.5H365.5V480" fill="#ff0000"/>
<path d="M365.5 480V449.5H367.5V480" fill="#ff0000"/>
<path d="M368.5 480V449.5H370.5V480" fill="#ff0000"/>
<path d="M370.5 480V449.5H372.5V480" fill="#ff0000"/>
<path d="M372.5 480V449.5H374.5V480" fill="#ff0000"/>
<path d="M374.5 480V449.5H376.5V480" fill="#ff0000"/>
<path d="M377.5 480V449.5H378.5V480" fill="#ff0000"/>
<path d="M379.5 480V449.5H381.5V480" fill="#ff0000"/>
<path d="M381.5 480V449.5H383.5V480" fill="#ff0000"/>
<path d="M383.5 480V449.5H385.5V480" fill="#ff0000"/>
<path d="M385.5 480V449.5H387.5V480" fill="#ff0000"/>
<path d="M388.5 480V449.5H390.5V480" fill="#ff0000"/>
<path d="M390.5 480V449.5H392.5V480" fill="#ff0000"/>
<path d="M392.5 480V431.5H394.5V480" fill="#008000"/>
<path d="M394.5 480V431.5H396.5V480" fill="#008000"/>
<path d="M397.5 480V431.5H398.5V480" fill="#008000"/>
<path d="M399.5 480V431.5H401.5V480" fill="#008000"/>
<path d="M401.5 480V431.5H403.5V480" fill="#008000"/>
<path d="M403.5 480V431.5H405.5V480" fill="#008000"/>
<path d="M405.5 480V431.5H407.5V480" fill="#008000"/>
<path d="M408.5 480V431.5H410.5V480" fill="#008000"/>
<path d="M410.5 480V431.5H412.5V480" fill="#008000"/>
<path d="M412.5 480V431.5H414.5V480" fill="#008000"/>
<path d="M414.5 480V431.5H416.5V480" fill="#008000"/>
<path d="M417.5 480V431.5H418.5V480" fill="#008000"/>
<path d="M419.5 480V431.5H421.5V480" fill="#008000"/>
<path d="M421.5 480V431.5H423.5V480" fill="#008000"/>
<path d="M423.5 480V431.5H425.5V480" fill="#008000"/>
<path d="M425.5 480V431.5H427.5V480" fill="#008000"/>
<path d="M428.5 480V431.5H430.5V480" fill="#008000"/>
<path d="M430.5 480V431.5H432.5V480" fill="#008000"/>
<path d="M432.5 480V431.5H434.5V480" fill="#008000"/>
<path d="M434.5 480V435.5H436.5V480" fill="#008000"/>
<path d="M437.5 480V435.5H438.5V480" fill="#008000"/>
<path d="M439.5 480V435.5H441.5V480" fill="#008000"/>
<path d="M441.5 480V435.5H443.5V480" fill="#008000"/>
<path d="M443.5 480V435.5H445.5V480" fill="#008000"/>
<path d="M445.5 480V435.5H447.5V480" fill="#008000"/>
<path d="M448.5 480V435.5H450.5V480" fill="#008000"/>
<path d="M450.5 480V435.5H452.5V480" fill="#008000"/>
<path d="M452.5 480V435.5H454.5V480" fill="#008000"/>
<path d="M454.5 480V435.5H456.5V480" fill="#008000"/>
<path d="M457.5 480V435.5H458.5V480" fill="#008000"/>
<path d="M459.5 480V435.5H461.5V480" fill="#008000"/>
<path d="M461.5 480V435.5H463.5V480" fill="#008000"/>
<path d="M463.5 480V435.5H465.5V480" fill="#008000"/>
<path d="M465.5 480V435.5H467.5V480" fill="#008000"/>
<path d="M468.5 480V435.5H470.5V480" fill="#008000"/>
<path d="M470.5 480V435.5H472.5V480" fill="#008000"/>
<path d="M472.5 480V435.5H474.5V480" fill="#008000"/>
<path d="M474.5 480V440.5H476.5V480" fill="#008000"/>
<path d="M477.5 480V440.5H478.5V480" fill="#008000"/>
<path d="M479.5 480V440.5H481.5V480" fill="#008000"/>
<path d="M481.5 480V440.5H483.5V480" fill="#008000"/>
<path d="M483.5 480V440.5H485.5V480" fill="#008000"/>
<path d="M486.5 480V440.5H487.5V480" fill="#008000"/>
<path d="M488.5 480V440.5H490.5V480" fill="#008000"/>
<path d="M490.5 480V440.5H492.5V480" fill="#008000"/>
<path d="M492.5 480V440.5H494.5V480" fill="#008000"/>
<path d="M494.5 480V440.5H496.5V480" fill="#008000"/>
<path d="M497.5 480V440.5H498.5V480" fill="#008000"/>
<path d="M499.5 480V440.5H501.5V480" fill="#008000"/>
<path d="M501.5 480V440.5H503.5V480" fill="#008000"/>
<path d="M503.5 480V440.5H505.5V480" fill="#008000"/>
<path d="M506.5 480V440.5H507.5V480" fill="#008000"/>
<path d="M508.5 480V440.5H510.5V480" fill="#008000"/>
<path d="M510.5 480V440.5H512.5V480" fill="#008000"/>
<path d="M512.5 480V430.5H514.5V480" fill="#008000"/>
<path d="M514.5 480V430.5H516.5V480" fill="#008000"/>
<path d="M517.5 480V430.5H518.5V480" fill="#008000"/>
<path d="M519.5 480V430.5H521.5V480" fill="#008000"/>
<path d="M521.5 480V430.5H523.5V480" fill="#008000"/>
<path d="M523.5 480V430.5H525.5V480" fill="#008000"/>
<path d="M526.5 480V430.5H527.5V480" fill="#008000"/>
<path d="M528.5 480V430.5H530.5V480" fill="#008000"/>
<path d="M530.5 480V430.5H532.5V480" fill="#008000"/>
<path d="M532.5 480V430.5H534.5V480" fill="#008000"/>
<path d="M534.5 480V430.5H536.5V480" fill="#008000"/>
<path d="M537.5 480V430.5H538.5V480" fill="#008000"/>
<path d="M539.5 480V430.5H541.5V480" fill="#008000"/>
<path d="M541.5 480V430.5H543.5V480" fill="#008000"/>
<path d="M543.5 480V430.5H545.5V480" fill="#008000"/>
<path d="M546.5 480V430.5H547.5V480" fill="#008000"/>
<path d="M548.5 480V402.5H550.5V480" fill="#008000"/>
<path d="M550.5 480V402.5H552.5V480" fill="#008000"/>
<path d="M552.5 480V402.5H554.5V480" fill="#008000"/>
<path d="M554.5 480V402.5H556.5V480" fill="#008000"/>
<path d="M557.5 480V402.5H558.5V480" fill="#008000"/>
<path d="M559.5 480V402.5H561.5V480" fill="#008000"/>
<path d="M561.5 480V402.5H563.5V480" fill="#008000"/>
<path d="M563.5 480V402.5H565.5V480" fill="#008000"/>
<path d="M566.5 480V402.5H567.5V480" fill="#008000"/>
<path d="M568.5 480V402.5H570.5V480" fill="#008000"/>
<path d="M570.5 480V402.5H572.5V480" fill="#008000"/>
<path d="M572.5 480V402.5H574.5V480" fill="#008000"/>
<path d="M574.5 480V402.5H576.5V480" fill="#008000"/>
<path d="M577.5 480V402.5H578.5V480" fill="#008000"/>
<path d="M579.5 480V402.5H581.5V480" fill="#008000"/>
<path d="M581.5 480V402.5H583.5V480" fill="#008000"/>
<path d="M583.5 480V443.5H585.5V480" fill="#ff0000"/>
<path d="M586.5 480V443.5H587.5V480" fill="#ff0000"/>
<path d="M588.5 480V443.5H590.5V480" fill="#ff0000"/>
<path d="M590.5 480V443.5H592.5V480" fill="#ff0000"/>
<path d="M592.5 480V443.5H594.5V480" fill="#ff0000"/>
<path d="M594.5 480V443.5H596.5V480" fill="#ff0000"/>
<path d="M597.5 480V443.5H598.5V480" fill="#ff0000"/>
<path d="M599.5 480V443.5H601.5V480" fill="#ff0000"/>
<path d="M601.5 480V443.5H603.5V480" fill="#ff0000"/>
<path d="M603.5 480V443.5H605.5V480" fill="#ff0000"/>
<path d="M606.5 480V443.5H607.5V480" fill="#ff0000"/>
<path d="M608.5 480V443.5H610.5V480" fill="#ff0000"/>
<path d="M610.5 480V443.5H612.5V480" fill="#ff0000"/>
<path d="M612.5 480V443.5H614.5V480" fill="#ff0000"/>
<path d="M614.5 480V443.5H616.5V480" fill="#ff0000"/>
<path d="M617.5 480V443.5H618.5V480" fill="#ff0000"/>
<path d="M619.5 480V422.5H621.5V480" fill="#ff0000"/>
<path d="M621.5 480V422.5H623.5V480" fill="#ff0000"/>
<path d="M623.5 480V422.5H625.5V480" fill="#ff0000"/>
<path d="M626.5 480V422.5H627.5V480" fill="#ff0000"/>
<path d="M628.5 480V422.5H630.5V480" fill="#ff0000"/>
<path d="M630.5 480V422.5H632.5V480" fill="#ff0000"/>
<path d="M632.5 480V422.5H634.5V480" fill="#ff0000"/>
<path d="M634.5 480V422.5H636.5V480" fill="#ff0000"/>
<path d="M637.5 480V422.5H639.5V480" fill="#ff0000"/>
<path d="M639.5 480V422.5H641.5V480" fill="#ff0000"/>
<path d="M641.5 480V422.5H643.5V480" fill="#ff0000"/>
<path d="M643.5 480V422.5H645.5V480" fill="#ff0000"/>
<path d="M646.5 480V422.5H647.5V480" fill="#ff0000"/>
<path d="M648.5 480V422.5H650.5V480" fill="#ff0000"/>
<path d="M650.5 480V422.5H652.5V480" fill="#ff0000"/>
<path d="M652.5 480V400.5H654.5V480" fill="#008000"/>
<path d="M654.5 480V400.5H656.5V480" fill="#008000"/>
<path d="M657.5 480V400.5H659.5V480" fill="#008000"/>
<path d="M659.5 480V400.5H661.5V480" fill="#008000"/>
<path d="M661.5 480V400.5H663.5V480" fill="#008000"/>
<path d="M663.5 480V400.5H665.5V480" fill="#008000"/>
<path d="M666.5 480V400.5H667.5V480" fill="#008000"/>
<path d="M668.5 480V400.5H670.5V480" fill="#008000"/>
<path d="M670.5 480V400.5H672.5V480" fill="#008000"/>
<path d="M672.5 480V400.5H674.5V480" fill="#008000"/>
<path d="M674.5 480V400.5H676.5V480" fill="#008000"/>
<path d="M677.5 480V400.5H679.5V480" fill="#008000"/>
<path d="M679.5 480V400.5H681.5V480" fill="#008000"/>
<path d="M681.5 480V400.5H683.5V480" fill="#008000"/>
<path d="M683.5 480V453.5H685.5V480" fill="#ff0000"/>
<path d="M686.5 480V453.5H687.5V480" fill="#ff0000"/>
<path d="M688.5 480V453.5H690.5V480" fill="#ff0000"/>
<path d="M690.5 480V453.5H692.5V480" fill="#ff0000"/>
<path d="M692.5 480V453.5H694.5V480" fill="#ff0000"/>
<path d="M694.5 480V453.5H696.5V480" fill="#ff0000"/>
<path d="M697.5 480V453.5H699.5V480" fill="#ff0000"/>
<path d="M699.5 480V453.5H701.5V480" fill="#ff0000"/>
<path d="M701.5 480V453.5H703.5V480" fill="#ff0000"/>
<path d="M703.5 480V453.5H705.5V480" fill="#ff0000"/>
<path d="M706.5 480V453.5H707.5V480" fill="#ff0000"/>
<path d="M708.5 480V453.5H710.5V480" fill="#ff0000"/>
<path d="M710.5 480V453.5H712.5V480" fill="#ff0000"/>
<path d="M712.5 480V367.5H714.5V480" fill="#ff0000"/>
<path d="M714.5 480V367.5H716.5V480" fill="#ff0000"/>
<path d="M717.5 480V367.5H719.5V480" fill="#ff0000"/>
<path d="M719.5 480V367.5H721.5V480" fill="#ff0000"/>
<path d="M721.5 480V367.5H723.5V480" fill="#ff0000"/>
<path d="M723.5 480V367.5H725.5V480" fill="#ff0000"/>
<path d="M726.5 480V367.5H727.5V480" fill="#ff0000"/>
<path d="M728.5 480V367.5H730.5V480" fill="#ff0000"/>
<path d="M730.5 480V367.5H732.5V480" fill="#ff0000"/>
<path d="M732.5 480V367.5H734.5V480" fill="#ff0000"/>
<path d="M734.5 480V367.5H736.5V480" fill="#ff0000"/>
<path d="M737.5 480V367.5H739.5V480" fill="#ff0000"/>
<path d="M739.5 480V435.5H741.5V480" fill="#008000"/>
<path d="M741.5 480V435.5H743.5V480" fill="#008000"/>
<path d="M743.5 480V435.5H745.5V480" fill="#008000"/>
<path d="M746.5 480V435.5H747.5V480" fill="#008000"/>
<path d="M748.5 480V435.5H750.5V480" fill="#008000"/>
<path d="M750.5 480V435.5H752.5V480" fill="#008000"/>
<path d="M752.5 480V435.5H754.5V480" fill="#008000"/>
<path d="M754.5 480V435.5H756.5V480" fill="#008000"/>
<path d="M757.5 480V435.5H759.5V480" fill="#008000"/>
<path d="M759.5 480V435.5H761.5V480" fill="#008000"/>
<path d="M761.5 480V435.5H763.5V480" fill="#008000"/>
<path d="M763.5 480V449.5H765.5V480" fill="#ff0000"/>
<path d="M766.5 480V449.5H767.5V480" fill="#ff0000"/>
<path d="M768.5 480V449.5H770.5V480" fill="#ff0000"/>
<path d="M770.5 480V449.5H772.5V480" fill="#ff0000"/>
<path d="M772.5 480V449.5H774.5V480" fill="#ff0000"/>
<path d="M774.5 480V449.5H776.5V480" fill="#ff0000"/>
<path d="M777.5 480V449.5H779.5V480" fill="#ff0000"/>
<path d="M779.5 480V449.5H781.5V480" fill="#ff0000"/>
<path d="M781.5 480V449.5H783.5V480" fill="#ff0000"/>
<path d="M783.5 480V449.5H785.5V480" fill="#ff0000"/>
<path d="M786.5 480V450.5H787.5V480" fill="#008000"/>
<path d="M788.5 480V450.5H790.5V480" fill="#008000"/>
<path d="M790.5 480V450.5H792.5V480" fill="#008000"/>
<path d="M792.5 480V450.5H794.5V480" fill="#008000"/>
<path d="M794.5 480V450.5H796.5V480" fill="#008000"/>
<path d="M797.5 480V450.5H799.5V480" fill="#008000"/>
<path d="M799.5 480V450.5H801.5V480" fill="#008000"/>
<path d="M801.5 480V450.5H803.5V480" fill="#008000"/>
<path d="M803.5 480V450.5H805.5V480" fill="#008000"/>
<path d="M806.5 480V450.5H807.5V480" fill="#ff0000"/>
<path d="M808.5 480V450.5H810.5V480" fill="#ff0000"/>
<path d="M810.5 480V450.5H812.5V480" fill="#ff0000"/>
<path d="M812.5 480V450.5H814.5V480" fill="#ff0000"/>
<path d="M815.5 480V450.5H816.5V480" fill="#ff0000"/>
<path d="M817.5 480V450.5H819.5V480" fill="#ff0000"/>
<path d="M819.5 480V450.5H821.5V480" fill="#ff0000"/>
<path d="M821.5 480V450.5H823.5V480" fill="#ff0000"/>
<path d="M823.5 480V431.5H825.5V480" fill="#ff0000"/>
<path d="M826.5 480V431.5H827.5V480" fill="#ff0000"/>
<path d="M828.5 480V431.5H830.5V480" fill="#ff0000"/>
<path d="M830.5 480V431.5H832.5V480" fill="#ff0000"/>
<path d="M832.5 480V431.5H834.5V480" fill="#ff0000"/>
<path d="M835.5 480V431.5H836.5V480" fill="#ff0000"/>
<path d="M837.5 480V431.5H839.5V480" fill="#ff0000"/>
<path d="M839.5 480V457.5H841.5V480" fill="#008000"/>
<path d="M841.5 480V457.5H843.5V480" fill="#008000"/>
<path d="M843.5 480V457.5H845.5V480" fill="#008000"/>
<path d="M846.5 480V457.5H847.5V480" fill="#008000"/>
<path d="M848.5 480V457.5H850.5V480" fill="#008000"/>
<path d="M850.5 480V457.5H852.5V480" fill="#008000"/>
<path d="M852.5 480V453.5H854.5V480" fill="#ff0000"/>
<path d="M855.5 480V453.5H856.5V480" fill="#ff0000"/>
<path d="M857.5 480V453.5H859.5V480" fill="#ff0000"/>
<path d="M859.5 480V453.5H861.5V480" fill="#ff0000"/>
<path d="M861.5 480V453.5H863.5V480" fill="#ff0000"/>
<path d="M863.5 480V458.5H865.5V480" fill="#ff0000"/>
<path d="M866.5 480V458.5H867.5V480" fill="#ff0000"/>
<path d="M868.5 480V458.5H870.5V480" fill="#ff0000"/>
<path d="M870.5 480V458.5H872.5V480" fill="#ff0000"/>
<path d="M872.5 480V450.5H874.5V480" fill="#008000"/>
<path d="M875.5 480V450.5H876.5V480" fill="#008000"/>
<path d="M877.5 480V450.5H879.5V480" fill="#008000"/>
<path d="M879.5 480V452.5H881.5V480" fill="#ff0000"/>
<path d="M881.5 480V452.5H883.5V480" fill="#ff0000"/>
<path d="M883.5 480V448.5H885.5V480" fill="#008000"/>
</g>
<g fill="#000">
<rect x="183.94" y="68.94" width="737.11" height="1.11"/>
<rect x="183.94" y="356.94" width="737.11" height="1.11"/>
<rect x="183.94" y="471.94" width="737.11" height="1.11"/>
<rect x="183.94" y="68.94" width="1.11" height="404.11"/>
<rect x="919.95" y="68.94" width="1.11" height="404.11"/>
<rect x="179.2" y="322.94" width="4.8" height="1.11"/>
<rect x="179.2" y="282.94" width="4.8" height="1.11"/>
<rect x="179.2" y="242.94" width="4.8" height="1.11"/>
<rect x="179.2" y="202.94" width="4.8" height="1.11"/>
<rect x="179.2" y="161.94" width="4.8" height="1.11"/>
<rect x="179.2" y="121.94" width="4.8" height="1.11"/>
<rect x="179.2" y="81.94" width="4.8" height="1.11"/>
<rect x="179.2" y="372.94" width="4.8" height="1.11"/>
<rect x="179.2" y="406.94" width="4.8" height="1.11"/>
<rect x="179.2" y="440.94" width="4.8" height="1.11"/>
<rect x="219.94" y="473" width="1.11" height="4.5"/>
<rect x="330.94" y="473" width="1.11" height="4.5"/>
<rect x="441.94" y="473" width="1.11" height="4.5"/>
<rect x="552.95" y="473" width="1.11" height="4.5"/>
<rect x="663.95" y="473" width="1.11" height="4.5"/>
<rect x="774.95" y="473" width="1.11" height="4.5"/>
<rect x="886.95" y="473" width="1.11" height="4.5"/>
</g>
<text class="t10" x="174.3" y="329.08" text-anchor="end">6828</text>
<text class="t10" x="174.3" y="288.87" text-anchor="end">6829</text>
<text class="t10" x="174.3" y="248.66" text-anchor="end">6830</text>
<text class="t10" x="174.3" y="208.45" text-anchor="end">6831</text>
<text class="t10" x="174.3" y="168.24" text-anchor="end">6832</text>
<text class="t10" x="174.3" y="128.03" text-anchor="end">6833</text>
<text class="t10" x="174.3" y="87.82" text-anchor="end">6834</text>
<text class="t10" transform="translate(173.3,377.8) scale(0.945,1)" text-anchor="end">750</text>
<text class="t10" transform="translate(173.3,411.8) scale(0.945,1)" text-anchor="end">500</text>
<text class="t10" transform="translate(173.3,445.8) scale(0.945,1)" text-anchor="end">250</text>
<text class="t10" transform="translate(218.7,500.65) rotate(-45) scale(0.975)" text-anchor="middle" y="5">18:36</text>
<text class="t10" transform="translate(329.7,500.65) rotate(-45) scale(0.975)" text-anchor="middle" y="5">18:42</text>
<text class="t10" transform="translate(440.7,500.65) rotate(-45) scale(0.975)" text-anchor="middle" y="5">18:51</text>
<text class="t10" transform="translate(551.7,500.65) rotate(-45) scale(0.975)" text-anchor="middle" y="5">19:00</text>
<text class="t10" transform="translate(663.7,500.65) rotate(-45) scale(0.975)" text-anchor="middle" y="5">19:09</text>
<text class="t10" transform="translate(774.7,500.65) rotate(-45) scale(0.975)" text-anchor="middle" y="5">19:21</text>
<text class="t10" transform="translate(130.5,215.4) rotate(-90) scale(0.97,1)" text-anchor="middle">Price</text>
<text class="t10" transform="translate(139.3,416) rotate(-90) scale(0.99,1)" text-anchor="middle">Volume</text>
<text class="t12" transform="translate(511.55,15.9) scale(0.9955,1.09)" text-anchor="middle">MES 12-Minute Chart (2025-11-27 08:00~09:00) - MA on HLC/3</text>
</svg></body></html>
